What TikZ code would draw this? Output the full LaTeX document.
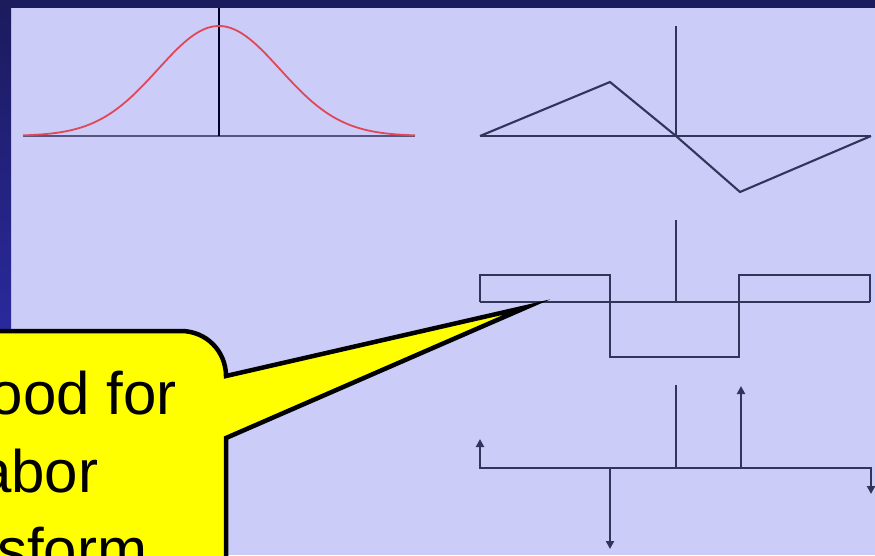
\documentclass[tikz,border=0pt]{standalone}
\usepackage{fontspec}
\newfontfamily\callfont{Liberation Sans}
\usetikzlibrary{arrows.meta}
\definecolor{bgc}{HTML}{CCCCF9}
\definecolor{navy}{HTML}{1B1B5E}
\definecolor{navyb}{HTML}{2A2AA0}
\definecolor{linec}{HTML}{34345A}
\definecolor{gaxc}{HTML}{55557E}
\definecolor{redc}{HTML}{E04858}
\definecolor{yel}{HTML}{FFFF00}
\begin{document}
\begin{tikzpicture}[x=1pt,y=-1pt,
  axisline/.style={draw=linec, line width=2.2pt},
  vaxis/.style={draw=black!85!blue, line width=2.6pt},
  wave/.style={draw=linec, line width=2.1pt, line join=miter},
  imp/.style={draw=linec, line width=2.2pt, -{Triangle[length=8pt,width=8pt]}},
  calltext/.style={anchor=base west, inner sep=0pt, font=\callfont\fontsize{60}{72}\selectfont, text=black}]
\useasboundingbox (0,0) rectangle (875,555);
\clip (0,0) rectangle (875,555);
\fill[bgc] (0,0) rectangle (875,555);
\fill[navy] (0,0) rectangle (875,8);
\shade[top color=navy, bottom color=navyb] (0,8) rectangle (11,345);
% gaussian
\draw[draw=gaxc, line width=2.6pt] (23,136) -- (415,136);
\draw[vaxis] (219,8) -- (219,136);
\draw[redc, line width=1.8pt] plot[domain=23:415, samples=120, smooth] (\x, {136-110*exp(-0.5*((\x-219)/61)^2)});
% triangle wave
\draw[axisline] (480,136) -- (871,136);
\draw[axisline] (676,26) -- (676,136);
\draw[wave] (480,136) -- (610,82) -- (676,136) -- (740,192) -- (871,136);
% square wave
\draw[axisline] (480,302) -- (870,302);
\draw[axisline] (676,220) -- (676,302);
\draw[wave] (480,302) -- (480,275) -- (610,275) -- (610,357) -- (739,357) -- (739,275) -- (870,275) -- (870,302);
% impulses
\draw[axisline] (480,468) -- (871,468);
\draw[axisline] (676,385) -- (676,468);
\draw[imp] (480,469) -- (480,439);
\draw[imp] (610,467) -- (610,549);
\draw[imp] (741,469) -- (741,386);
\draw[imp] (871,467) -- (871,494);
% callout
\draw[line width=4.5pt, fill=yel, line join=miter, miter limit=14]
  (-20,331) -- (181,331) .. controls (206,331) and (226,351) .. (226,376)
  -- (527,307) -- (226,438) -- (226,600) -- (-20,600) -- cycle;
\node[calltext] (l1) at (-10.5,414) {ood for};
\node[calltext] (l2) at (-22,492) {abor};
\node[calltext] (l3) at (-3,570) {sform};
\end{tikzpicture}
\end{document}
